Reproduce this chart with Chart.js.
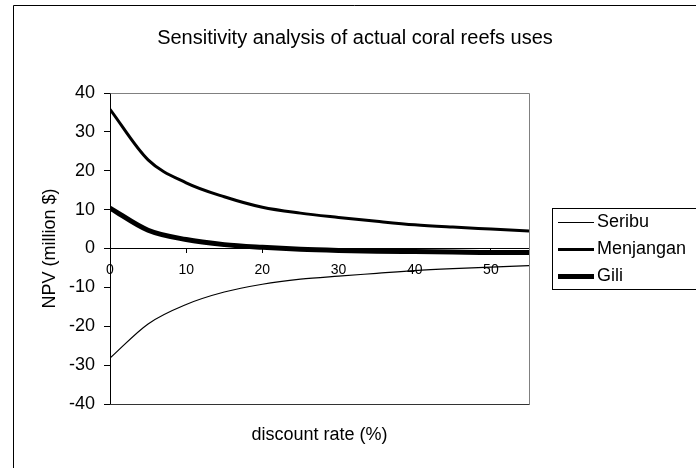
<!DOCTYPE html>
<html>
<head>
<meta charset="utf-8">
<script src="https://cdn.jsdelivr.net/npm/chart.js@4.4.0/dist/chart.umd.min.js"></script>
<style>
  html, body { margin: 0; padding: 0; background: #fff; }
  #wrap { width: 696px; height: 468px; }
</style>
</head>
<body>
<div id="wrap"><canvas id="npvChart" width="696" height="468"></canvas></div>
<script>
// Valores (NPV en millones de $ según la tasa de descuento)
const rates = [0, 5, 10, 15, 20, 25, 30, 35, 40, 45, 50, 55];
const seribu = [-28.2, -19.4, -14.4, -11.2, -9.2, -7.9, -7.1, -6.4, -5.7, -5.2, -4.8, -4.4];
const menjangan = [35.8, 22.8, 16.9, 13.3, 10.6, 9.1, 8.0, 7.0, 6.1, 5.5, 5.0, 4.5];
const gili = [10.4, 4.7, 2.3, 1.0, 0.3, -0.2, -0.5, -0.7, -0.8, -0.9, -1.0, -1.0];

const seriesNames = ['Seribu', 'Menjangan', 'Gili'];
const xTicks = [0, 10, 20, 30, 40, 50];
const yTicks = [-40, -30, -20, -10, 0, 10, 20, 30, 40];

const FONT = '"Liberation Sans", Arial, sans-serif';

const toPoints = (values) => rates.map((r, i) => ({ x: r, y: values[i] }));

/**
 * Fondo, marco exterior y borde gris del área de trazado (estilo Excel)
 */
const frame = {
  id: 'frame',
  beforeDraw(chart) {
    const ctx = chart.ctx;
    ctx.save();
    ctx.fillStyle = '#fff';
    ctx.fillRect(0, 0, chart.width, chart.height);
    ctx.strokeStyle = '#000';
    ctx.lineWidth = 1;
    ctx.beginPath();
    ctx.moveTo(13.5, chart.height);
    ctx.lineTo(13.5, 5.5);
    ctx.lineTo(chart.width, 5.5);
    ctx.stroke();
    ctx.restore();
  },
  beforeDatasetsDraw(chart) {
    const { ctx, chartArea: a } = chart;
    ctx.save();
    ctx.strokeStyle = '#808080';
    ctx.lineWidth = 1;
    ctx.beginPath();
    ctx.moveTo(Math.round(a.left) + 0.5, Math.round(a.top) + 0.5);
    ctx.lineTo(Math.round(a.right) + 0.5, Math.round(a.top) + 0.5);
    ctx.lineTo(Math.round(a.right) + 0.5, Math.round(a.bottom) + 0.5);
    ctx.stroke();
    ctx.strokeStyle = '#333';
    ctx.beginPath();
    ctx.moveTo(Math.round(a.left), Math.round(a.bottom) + 0.5);
    ctx.lineTo(Math.round(a.right) + 0.5, Math.round(a.bottom) + 0.5);
    ctx.stroke();
    ctx.restore();
  }
};

/**
 * Leyenda con recuadro a la derecha
 */
const legendBox = {
  id: 'legendBox',
  afterDraw(chart) {
    const ctx = chart.ctx;
    ctx.save();
    ctx.strokeStyle = '#000';
    ctx.lineWidth = 1;
    ctx.strokeRect(552.5, 208.5, 160, 81);
    ctx.font = '18px ' + FONT;
    ctx.textBaseline = 'middle';
    ctx.textAlign = 'left';
    ctx.fillStyle = '#000';
    chart.data.datasets.forEach((ds, i) => {
      const y = 222.5 + i * 27;
      ctx.beginPath();
      ctx.lineWidth = ds.borderWidth;
      ctx.moveTo(558, y);
      ctx.lineTo(594, y);
      ctx.stroke();
      ctx.fillText(ds.label, 597, y);
    });
    ctx.restore();
  }
};

const lineStyle = {
  borderColor: '#000',
  pointRadius: 0,
  fill: false,
  cubicInterpolationMode: 'monotone'
};

new Chart(document.getElementById('npvChart'), {
  type: 'line',
  data: {
    datasets: [
      { ...lineStyle, label: seriesNames[0], data: toPoints(seribu), borderWidth: 1.2 },
      { ...lineStyle, label: seriesNames[1], data: toPoints(menjangan), borderWidth: 3 },
      { ...lineStyle, label: seriesNames[2], data: toPoints(gili), borderWidth: 5 }
    ]
  },
  options: {
    responsive: false,
    animation: false,
    devicePixelRatio: 1,
    layout: { padding: { left: 14, right: 0, top: 0, bottom: 0 } },
    plugins: {
      legend: { display: false },
      tooltip: { enabled: false },
      title: {
        display: true,
        text: 'Sensitivity analysis of actual coral reefs uses',
        color: '#000',
        font: { size: 20, weight: 'normal', family: FONT },
        padding: { top: 26, bottom: 43 }
      }
    },
    scales: {
      x: {
        type: 'linear',
        min: 0,
        max: 55,
        position: { y: 0 },
        afterBuildTicks: (s) => { s.ticks = xTicks.map(v => ({ value: v })); },
        afterFit: (s) => { s.height = 0; },
        ticks: {
          color: '#000',
          font: { size: 14, family: FONT },
          padding: 9,
          maxRotation: 0,
          autoSkip: false
        },
        grid: { drawOnChartArea: false, drawTicks: true, tickLength: 4, color: '#000' },
        border: { display: true, color: '#000', width: 1 }
      },
      xTitle: {
        type: 'linear',
        axis: 'x',
        position: 'bottom',
        min: 0,
        max: 55,
        afterFit: (s) => { s.height = 64; },
        ticks: { display: false },
        grid: { display: false, drawTicks: false },
        border: { display: false },
        title: {
          display: true,
          text: 'discount rate (%)',
          color: '#000',
          font: { size: 18, family: FONT },
          padding: { top: 0, bottom: 22 }
        }
      },
      y: {
        min: -40,
        max: 40,
        position: 'left',
        afterBuildTicks: (s) => { s.ticks = yTicks.map(v => ({ value: v })); },
        afterFit: (s) => { s.width = 96; },
        ticks: { color: '#000', font: { size: 18, family: FONT }, padding: 9 },
        grid: { drawOnChartArea: false, drawTicks: true, tickLength: 6, color: '#000' },
        border: { display: true, color: '#000', width: 1 },
        title: {
          display: true,
          text: 'NPV (million $)',
          color: '#000',
          font: { size: 18, family: FONT },
          padding: { top: 25, bottom: 0 }
        }
      },
      legendSpace: {
        type: 'linear',
        axis: 'y',
        position: 'right',
        afterFit: (s) => { s.width = 167; },
        ticks: { display: false },
        grid: { display: false, drawTicks: false },
        border: { display: false }
      }
    }
  },
  plugins: [frame, legendBox]
});
</script>
</body>
</html>
